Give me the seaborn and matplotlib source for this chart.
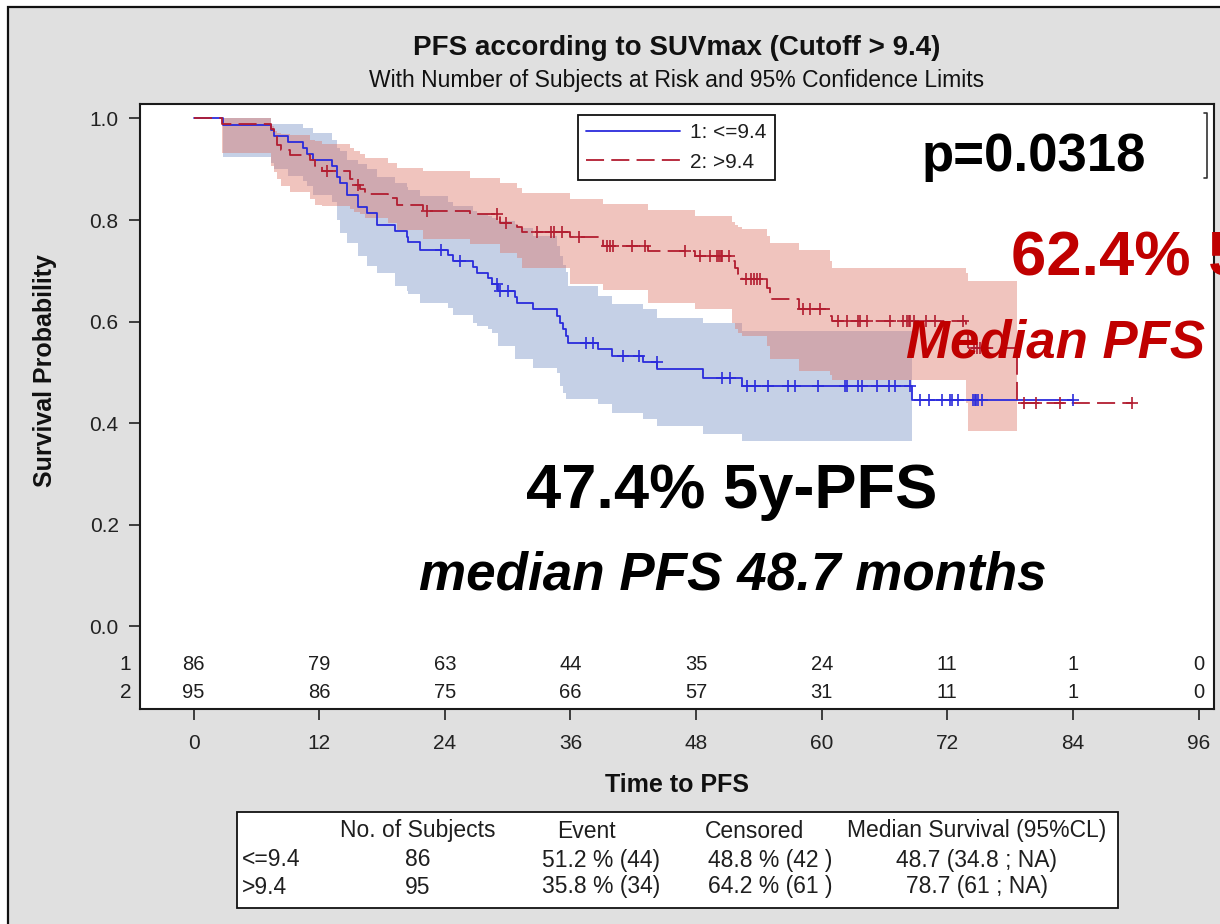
import numpy as np
import pandas as pd
import matplotlib
matplotlib.use("Agg")
import matplotlib.pyplot as plt
from matplotlib.lines import Line2D
from matplotlib.patches import Rectangle
import seaborn as sns

# ---------------- data ----------------
# Kaplan-Meier estimate, group 1 (SUVmax <= 9.4): step times (months) and survival after each step
low_times = [0, 2.85, 7.37, 7.69, 9.06, 10.49, 10.81, 11.45, 13.2, 13.68, 14.0, 14.63, 15.74,
             16.54, 17.5, 19.25, 20.36, 20.52, 21.63, 24.34, 24.81, 26.73, 27.05, 28.16, 28.48,
             29.11, 30.71, 30.87, 32.45, 34.69, 35.0, 35.3, 35.6, 35.8, 38.67, 39.94, 42.96,
             44.3, 48.7, 52.36, 68.6]
low_surv = [1.0, 0.988, 0.977, 0.965, 0.954, 0.942, 0.930, 0.919, 0.907, 0.884, 0.872, 0.849,
            0.826, 0.814, 0.791, 0.779, 0.767, 0.756, 0.742, 0.731, 0.719, 0.708, 0.696, 0.686,
            0.674, 0.661, 0.649, 0.637, 0.624, 0.611, 0.598, 0.585, 0.571, 0.557, 0.547, 0.532,
            0.520, 0.506, 0.490, 0.474, 0.4455]
low_last = 84.0
low_censor = [23.64, 25.45, 28.96, 29.27, 30.07, 37.49, 38.13, 41.05, 42.58, 44.24, 50.45,
              51.24, 52.84, 53.63, 54.9, 56.75, 57.45, 59.62, 62.23, 62.45, 63.5, 63.82, 65.31,
              66.46, 67.0, 68.43, 69.39, 70.25, 71.46, 72.25, 72.47, 73.0, 74.48, 74.6, 74.71,
              74.96, 75.28, 84.0]
# 95% confidence limits, group 1
low_ci_times = [2.85, 7.37, 7.69, 9.06, 10.49, 10.81, 11.45, 13.2, 13.68, 14.0, 14.63, 15.74,
                16.54, 17.5, 19.25, 20.36, 20.52, 21.63, 24.34, 24.81, 26.73, 27.05, 28.16,
                28.48, 29.11, 30.71, 30.87, 32.45, 34.69, 35.0, 35.3, 35.6, 35.8, 38.67, 39.94,
                42.96, 44.3, 48.7, 52.36]
low_ci_lower = [0.925, 0.913, 0.900, 0.886, 0.876, 0.867, 0.850, 0.836, 0.800, 0.775, 0.755,
                0.729, 0.709, 0.696, 0.670, 0.660, 0.654, 0.637, 0.627, 0.614, 0.598, 0.591,
                0.585, 0.578, 0.552, 0.526, 0.526, 0.509, 0.499, 0.473, 0.460, 0.447, 0.447,
                0.437, 0.421, 0.408, 0.395, 0.378, 0.365]
low_ci_upper = [1.0, 0.990, 0.990, 0.990, 0.981, 0.981, 0.972, 0.958, 0.942, 0.935, 0.919,
                0.910, 0.900, 0.885, 0.873, 0.865, 0.860, 0.847, 0.835, 0.827, 0.818, 0.811,
                0.808, 0.805, 0.798, 0.792, 0.785, 0.768, 0.749, 0.730, 0.712, 0.697, 0.670,
                0.650, 0.634, 0.624, 0.608, 0.597, 0.581]
low_ci_last = 68.6

# Kaplan-Meier estimate, group 2 (SUVmax > 9.4)
high_times = [0, 2.69, 7.4, 7.7, 8.0, 8.33, 9.22, 11.13, 11.6, 12.24, 14.95, 15.3, 15.9, 16.38,
              18.6, 19.4, 21.95, 26.4, 29.27, 30.87, 31.35, 36.0, 39.1, 43.4, 47.9, 51.4, 51.7,
              52.0, 52.4, 54.75, 55.06, 57.8, 60.8, 61.0, 73.8, 74.0, 78.7]
high_surv = [1.0, 0.989, 0.979, 0.968, 0.947, 0.937, 0.929, 0.919, 0.906, 0.896, 0.880, 0.870,
             0.862, 0.852, 0.844, 0.829, 0.817, 0.811, 0.795, 0.787, 0.776, 0.766, 0.749, 0.739,
             0.729, 0.719, 0.706, 0.693, 0.683, 0.667, 0.644, 0.624, 0.612, 0.601, 0.576, 0.548,
             0.440]
high_last = 89.6
high_censor = [12.72, 15.74, 22.27, 28.96, 29.85, 32.78, 34.1, 34.4, 35.2, 36.8, 39.5, 39.8,
               40.1, 41.85, 43.1, 46.9, 48.4, 49.3, 50.0, 50.2, 50.4, 50.5, 51.1, 52.8, 53.2,
               53.5, 53.8, 54.1, 58.2, 58.9, 59.8, 61.6, 62.4, 63.5, 63.7, 64.3, 66.5, 67.8,
               68.1, 68.3, 68.4, 68.8, 70.0, 70.8, 73.5, 74.5, 74.8, 75.1, 75.4, 75.6, 79.3,
               80.5, 82.8, 89.6]
high_ci_times = [2.69, 7.4, 7.7, 8.0, 8.33, 9.22, 11.13, 11.6, 12.24, 14.95, 15.3, 15.9, 16.38,
                 18.6, 19.4, 21.95, 26.4, 29.27, 30.87, 31.35, 36.0, 39.1, 43.4, 47.9, 51.4,
                 51.7, 52.0, 52.4, 54.75, 55.06, 57.8, 60.8, 61.0, 73.8, 74.0]
high_ci_lower = [0.932, 0.906, 0.895, 0.880, 0.867, 0.855, 0.842, 0.830, 0.827, 0.822, 0.815,
                 0.811, 0.805, 0.795, 0.780, 0.762, 0.752, 0.735, 0.725, 0.705, 0.675, 0.663,
                 0.637, 0.624, 0.598, 0.585, 0.578, 0.572, 0.552, 0.526, 0.503, 0.495, 0.486,
                 0.440, 0.384]
high_ci_upper = [1.0, 0.985, 0.975, 0.972, 0.970, 0.968, 0.958, 0.955, 0.950, 0.942, 0.935,
                 0.930, 0.923, 0.913, 0.903, 0.897, 0.883, 0.873, 0.864, 0.854, 0.841, 0.831,
                 0.820, 0.808, 0.796, 0.790, 0.786, 0.782, 0.768, 0.755, 0.741, 0.720, 0.706,
                 0.695, 0.680]
high_ci_last = 78.7

# Subjects at risk
risk_times = [0, 12, 24, 36, 48, 60, 72, 84, 96]
risk_low = [86, 79, 63, 44, 35, 24, 11, 1, 0]
risk_high = [95, 86, 75, 66, 57, 31, 11, 1, 0]

legend_labels = ["1: <=9.4", "2: >9.4"]
x_ticks = [0, 12, 24, 36, 48, 60, 72, 84, 96]
y_ticks = [0.0, 0.2, 0.4, 0.6, 0.8, 1.0]

# Summary table
table_header = ["No. of Subjects", "Event", "Censored", "Median Survival (95%CL)"]
table_groups = ["<=9.4", ">9.4"]
table_n = ["86", "95"]
table_event = ["51.2 % (44)", "35.8 % (34)"]
table_censored = ["48.8 % (42 )", "64.2 % (61 )"]
table_median = ["48.7 (34.8 ; NA)", "78.7 (61 ; NA)"]

# ---------------- style ----------------
sns.set_theme(style="white")
plt.rcParams["font.family"] = ["Liberation Sans", "DejaVu Sans"]

W, H = 1220, 924
BLUE = "#2b2bdc"
RED = "#b21d30"
BLUE_BAND = "#c5d0e6"
RED_BAND = (221 / 255, 121 / 255, 107 / 255)
TXT = "#1e1e1e"


def fx(x):
    return x / W


def fy(y):
    return 1 - y / H


fig = plt.figure(figsize=(W / 100, H / 100), dpi=100, facecolor="white")

# grey panel with its dark frame
fig.patches.append(Rectangle((fx(8), -0.05), 1.2, fy(7) + 0.05, transform=fig.transFigure,
                             facecolor="#e0e0e0", edgecolor="#111111", linewidth=1.6, zorder=-5))

ax = fig.add_axes([fx(139.5), fy(708.7), fx(1214) - fx(139.5), fy(104) - fy(708.7)])
ax.set_facecolor("white")


def km_frame(times, surv, last):
    return pd.DataFrame({"t": list(times) + [last], "S": list(surv) + [surv[-1]]})


def surv_at(times, surv, pts):
    idx = np.searchsorted(np.asarray(times), np.asarray(pts), side="right") - 1
    return np.asarray(surv)[idx]


# confidence bands
ax.fill_between(low_ci_times + [low_ci_last], low_ci_lower + [low_ci_lower[-1]],
                low_ci_upper + [low_ci_upper[-1]], step="post", color=BLUE_BAND,
                linewidth=0, zorder=1)
ax.fill_between(high_ci_times + [high_ci_last], high_ci_lower + [high_ci_lower[-1]],
                high_ci_upper + [high_ci_upper[-1]], step="post", color=RED_BAND, alpha=0.44,
                linewidth=0, zorder=2)

# survival curves
sns.lineplot(data=km_frame(low_times, low_surv, low_last), x="t", y="S", ax=ax, color=BLUE,
             linewidth=1.3, drawstyle="steps-post", estimator=None, sort=False, zorder=4)
sns.lineplot(data=km_frame(high_times, high_surv, high_last), x="t", y="S", ax=ax, color=RED,
             linewidth=1.3, drawstyle="steps-post", estimator=None, sort=False, zorder=4,
             linestyle=(0, (10, 4)))

# censoring marks
sns.scatterplot(x=low_censor, y=surv_at(low_times, low_surv, low_censor), ax=ax, marker="+",
                s=70, color=BLUE, linewidth=1.2, zorder=5)
sns.scatterplot(x=high_censor, y=surv_at(high_times, high_surv, high_censor), ax=ax,
                marker="+", s=80, color=RED, linewidth=1.2, zorder=5)

ax.set_xlim(-5.16, 97.47)
ax.set_ylim(-0.162, 1.0285)
ax.set_xticks(x_ticks)
ax.set_xticklabels([str(v) for v in x_ticks])
ax.set_yticks(y_ticks)
ax.set_yticklabels([f"{v:.1f}" for v in y_ticks])
ax.tick_params(axis="x", direction="out", length=8, width=1.2, pad=10, labelsize=15,
               colors="#222222", bottom=True)
ax.tick_params(axis="y", direction="out", length=8, width=1.2, pad=7, labelsize=15,
               colors="#222222", left=True)
ax.set_xlabel("")
ax.set_ylabel("")
for sp in ax.spines.values():
    sp.set_color("#1a1a1a")
    sp.set_linewidth(1.5)

# numbers at risk inside the frame
row_y = [-0.0758, -0.131]
for yy, counts, lab in zip(row_y, [risk_low, risk_high], ["1", "2"]):
    for t, c in zip(risk_times, counts):
        ax.text(t, yy, str(c), ha="center", va="center", fontsize=14.5, color=TXT)
    ax.text(-5.95, yy, lab, ha="right", va="center", fontsize=15, color=TXT, clip_on=False)

# legend
handles = [Line2D([0], [0], color=BLUE, lw=1.3),
           Line2D([0], [0], color=RED, lw=1.3, linestyle=(0, (10, 4)))]
leg = ax.legend(handles, legend_labels, loc="upper left",
                bbox_to_anchor=(fx(578), fy(115)), bbox_transform=fig.transFigure,
                frameon=True, fancybox=False, framealpha=1, edgecolor="#111111",
                fontsize=15, handlelength=4.5, handletextpad=0.5, borderpad=0.4,
                labelspacing=0.5, borderaxespad=0)
leg.get_frame().set_linewidth(1.3)
for t in leg.get_texts():
    t.set_color(TXT)

# titles and axis labels
fig.text(fx(677), fy(55), "PFS according to SUVmax (Cutoff > 9.4)", ha="center",
         va="baseline", fontsize=20, fontweight="bold", color="#111111")
fig.text(fx(677), fy(87), "With Number of Subjects at Risk and 95% Confidence Limits",
         ha="center", va="baseline", fontsize=16.5, color="#111111")
fig.text(fx(677), fy(792), "Time to PFS", ha="center", va="baseline", fontsize=18,
         fontweight="bold", color="#111111")
fig.text(fx(45), fy(371), "Survival Probability", ha="center", va="center", rotation=90,
         fontsize=18, fontweight="bold", color="#111111")

# annotations
fig.text(fx(922), fy(171), "p=0.0318", ha="left", va="baseline", fontsize=38,
         fontweight="bold", color="black")
fig.text(fx(1011), fy(275), "62.4% 5y-PFS", ha="left", va="baseline", fontsize=45.5,
         fontweight="bold", color="#c00000")
fig.text(fx(906), fy(357), "Median PFS", ha="left", va="baseline", fontsize=38,
         fontweight="bold", fontstyle="italic", color="#c00000")
fig.text(fx(526), fy(508), "47.4% 5y-PFS", ha="left", va="baseline", fontsize=45.5,
         fontweight="bold", color="black")
fig.text(fx(419), fy(590), "median PFS 48.7 months", ha="left", va="baseline", fontsize=38.2,
         fontweight="bold", fontstyle="italic", color="black")

# small bracket at the right of the plot
fig.add_artist(Line2D([fx(1203.5), fx(1206.5), fx(1206.5), fx(1203.5)],
                      [fy(113), fy(113), fy(178), fy(178)], color="#333333", lw=1.2))

# summary table
fig.patches.append(Rectangle((fx(237), fy(908)), fx(1118) - fx(237), fy(812) - fy(908),
                             transform=fig.transFigure, facecolor="white",
                             edgecolor="#111111", linewidth=1.3, zorder=1))
header_x = [418, 586, 754, 977]
for x, s in zip(header_x, table_header):
    fig.text(fx(x), fy(831), s, ha="center", va="center", fontsize=16.5, color=TXT)
value_x = [418, 601, 770, 977]
for yy, g, n, e, c, m in zip([860, 887], table_groups, table_n, table_event, table_censored,
                             table_median):
    fig.text(fx(242), fy(yy), g, ha="left", va="center", fontsize=16.5, color=TXT)
    for x, s in zip(value_x, [n, e, c, m]):
        fig.text(fx(x), fy(yy), s, ha="center", va="center", fontsize=16.5, color=TXT)

fig.savefig("out.png", dpi=100, facecolor=fig.get_facecolor())
